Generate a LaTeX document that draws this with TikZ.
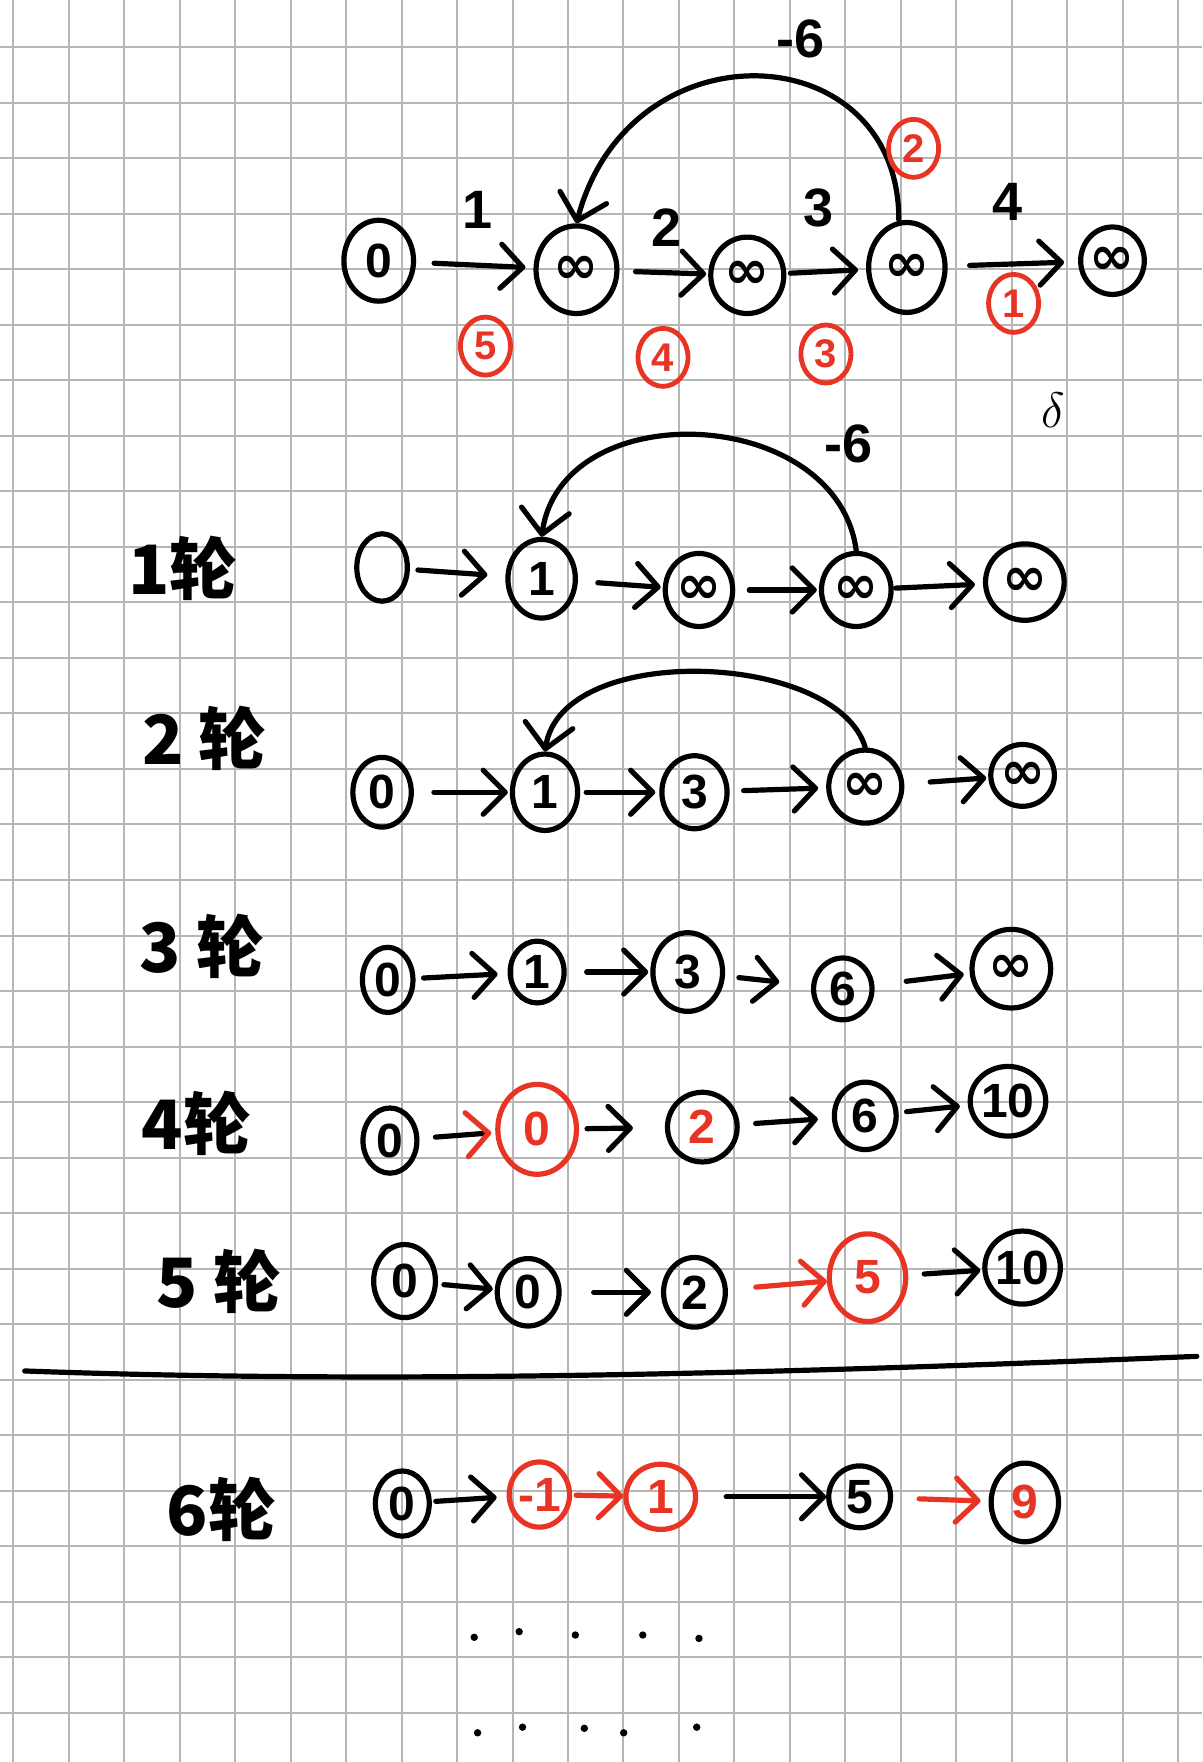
\documentclass[tikz,border=0pt]{standalone}
\usepackage{fontspec}
\setmainfont{Liberation Sans}
\newfontfamily\djv{DejaVu Sans}
\newfontfamily\cjk{Noto Sans CJK SC}
\usetikzlibrary{arrows.meta,shapes.geometric}
\definecolor{rd}{RGB}{232,52,36}
\definecolor{gridc}{RGB}{182,182,182}
\newcommand{\infsym}{{\djv\bfseries\fontsize{27}{27}\selectfont ∞}}
\begin{document}
\begin{tikzpicture}[x=0.5617pt,y=-0.5617pt,
  every node/.style={inner sep=0pt},
  gridl/.style={draw=gridc, line width=1pt},
  nd/.style 2 args={draw, ellipse, line width=2.6pt, minimum width=#1*0.5617pt, minimum height=#2*0.5617pt, font=\fontsize{24}{24}\selectfont\bfseries},
  rnd/.style={draw=rd, text=rd},
  ann/.style={draw=rd, text=rd, ellipse, line width=2.4pt, minimum width=25pt, minimum height=29pt, font=\fontsize{20}{20}\selectfont\bfseries},
  lbl/.style={font=\fontsize{27}{27}\selectfont\bfseries},
  cn/.style={font=\cjk\fontsize{34}{34}\selectfont\bfseries},
  arr/.style={line width=2.6pt, line cap=round, -{Straight Barb[length=11pt,width=22pt,round]}, shorten <=6pt, shorten >=2pt},
  rarr/.style={arr, draw=rd},
  curv/.style={line width=2.6pt, line cap=round, -{Straight Barb[length=12pt,width=24pt,round]}}
]
\useasboundingbox (0,0) rectangle (1070,1568);
\fill[white] (0,0) rectangle (1070,1568);
% grid
\foreach \i in {0,...,21} \draw[gridl] (11.84+49.36*\i,0) -- (11.84+49.36*\i,1568);
\foreach \j in {0,...,30} \draw[gridl] (0,42.1+49.4*\j) -- (1070,42.1+49.4*\j);

% ---------- row 0 ----------
\node[nd={62}{72}] (r0a) at (337,232) {0};
\node[nd={72}{78}] (r0b) at (513,240) {\infsym};
\node[nd={65}{68}] (r0c) at (665,245) {\infsym};
\node[nd={68}{80}] (r0d) at (807,238) {\infsym};
\node[nd={55}{60}] (r0e) at (990,232) {\infsym};
\draw[arr, shorten <=9pt, shorten >=4pt] (r0a) -- (r0b);
\draw[arr, shorten <=8pt, shorten >=1pt] (r0b) -- (r0c);
\draw[arr, shorten <=2pt, shorten >=4pt] (r0c) -- (r0d);
\draw[arr, shorten <=11pt, shorten >=7pt] (r0d) -- (r0e);
\draw[curv] ([xshift=-4pt]r0d.north) .. controls (800,30) and (560,20) .. (r0b.north);
\node[lbl] (e01) at (425,187) {1};
\node[lbl] (e12) at (593,203) {2};
\node[lbl] (e23) at (728,185) {3};
\node[lbl] (e34) at (897,180) {4};
\node[lbl] (e31) at (712,35) {-6};
\node[ann] (o5) at (432,308) {5};
\node[ann] (o4) at (590,318) {4};
\node[ann] (o3) at (735,315) {3};
\node[ann] (o2) at (813,132) {2};
\node[ann] (o1) at (902,270) {1};
\node[font=\fontsize{26}{26}\selectfont] (st) at (937,365) {$\delta$};

% ---------- row 1 ----------
\node[cn] (l1) at (163,506) {1轮};
\node[nd={45}{60}] (r1a) at (340,505) {};
\node[nd={60}{70}] (r1b) at (482,515) {1};
\node[nd={60}{65}] (r1c) at (622,525) {\infsym};
\node[nd={62}{65}] (r1d) at (762,525) {\infsym};
\node[nd={70}{68}] (r1e) at (912,518) {\infsym};
\draw[arr, shorten <=4pt, shorten >=9pt] (r1a) -- (r1b);
\draw[arr, shorten <=10pt, shorten >=1pt] (r1b) -- (r1c);
\draw[arr, shorten <=7pt, shorten >=1pt] (r1c) -- (r1d);
\draw[arr, shorten <=1pt, shorten >=4pt] (r1d) -- (r1e);
\draw[curv] (r1d.north) .. controls (745,360) and (500,350) .. (r1b.north);
\node[lbl] (f31) at (755,395) {-6};

% ---------- row 2 ----------
\node[cn] (l2) at (182,657) {2 轮};
\node[nd={52}{62}] (r2a) at (340,705) {0};
\node[nd={58}{68}] (r2b) at (485,705) {1};
\node[nd={58}{65}] (r2c) at (618,705) {3};
\node[nd={65}{65}] (r2d) at (770,700) {\infsym};
\node[nd={52}{55}] (r2e) at (910,690) {\infsym};
\draw[arr, shorten <=10pt, shorten >=1pt] (r2a) -- (r2b);
\draw[arr, shorten <=3pt, shorten >=2pt] (r2b) -- (r2c);
\draw[arr, shorten <=7pt, shorten >=4pt] (r2c) -- (r2d);
\draw[arr, shorten <=13pt, shorten >=1pt] (r2d) -- (r2e);
\draw[curv] (r2d.north) .. controls (745,580) and (500,570) .. (r2b.north);

% ---------- row 3 ----------
\node[cn] (l3) at (180,842) {3 轮};
\node[nd={45}{58}] (r3a) at (345,872) {0};
\node[nd={48}{55}] (r3b) at (478,865) {1};
\node[nd={62}{70}] (r3c) at (612,865) {3};
\node[nd={52}{55}] (r3d) at (750,880) {6};
\node[nd={70}{70}] (r3e) at (900,862) {\infsym};
\draw[arr, shorten <=4pt, shorten >=5pt] (r3a) -- (r3b);
\draw[arr, shorten <=10pt, shorten >=1pt] (r3b) -- (r3c);
\draw[arr, shorten <=7pt, shorten >=16pt] (r3c) -- (r3d);
\draw[arr, shorten <=16pt, shorten >=3pt] (r3d) -- (r3e);

% ---------- row 4 ----------
\node[cn] (l4) at (175,1000) {4轮};
\node[nd={48}{58}] (r4a) at (347,1015) {0};
\node[nd={70}{80}, rnd] (r4b) at (478,1005) {0};
\node[nd={62}{62}, text=rd] (r4c) at (625,1003) {2};
\node[nd={55}{60}] (r4d) at (770,993) {6};
\node[nd={60}{62}] (r4e) at (897,980) {10};
\draw[line width=2.6pt, line cap=round, -{Straight Barb[length=11pt,width=22pt,round,color=rd]}, shorten <=8pt, shorten >=2pt] (r4a) -- (r4b);
\draw[arr, shorten <=4pt, shorten >=16pt] (r4b) -- (r4c);
\draw[arr, shorten <=8pt, shorten >=7pt] (r4c) -- (r4d);
\draw[arr, shorten <=4pt, shorten >=4pt] (r4d) -- (r4e);

% ---------- row 5 ----------
\node[cn] (l5) at (195,1140) {5 轮};
\node[nd={55}{65}] (r5a) at (360,1140) {0};
\node[nd={55}{60}] (r5b) at (470,1150) {0};
\node[nd={55}{62}] (r5c) at (618,1150) {2};
\node[nd={68}{78}, rnd] (r5d) at (772,1137) {5};
\node[nd={65}{65}] (r5e) at (910,1128) {10};
\draw[arr, shorten <=3pt, shorten >=1pt] (r5a) -- (r5b);
\draw[arr, shorten <=16pt, shorten >=5pt] (r5b) -- (r5c);
\draw[rarr, shorten <=14pt, shorten >=0pt] (r5c) -- (r5d);
\draw[arr, shorten <=8pt, shorten >=1pt] (r5d) -- (r5e);

% ---------- divider ----------
\draw[line width=2.6pt, line cap=round] (22,1220) .. controls (350,1232) and (700,1222) .. (1065,1207);

% ---------- row 6 ----------
\node[cn] (l6) at (197,1343) {6轮};
\node[nd={48}{58}] (r6a) at (358,1338) {0};
\node[nd={52}{58}, rnd] (r6b) at (480,1330) {-1};
\node[nd={62}{58}, rnd] (r6c) at (588,1332) {1};
\node[nd={55}{55}] (r6d) at (765,1332) {5};
\node[nd={60}{70}, text=rd] (r6e) at (912,1337) {9};
\draw[arr, shorten <=2pt, shorten >=5pt] (r6a) -- (r6b);
\draw[rarr, shorten <=2pt, shorten >=0pt] (r6b) -- (r6c);
\draw[arr, shorten <=14pt, shorten >=0pt] (r6c) -- (r6d);
\draw[rarr, shorten <=13pt, shorten >=4pt] (r6d) -- (r6e);

% ---------- dots ----------
\foreach \px/\py in {422/1457,462/1452,512/1455,572/1455,622/1458,425/1542,465/1537,520/1538,555/1542,620/1537}
  \fill (\px,\py) circle (3.3);
\end{tikzpicture}
\end{document}
